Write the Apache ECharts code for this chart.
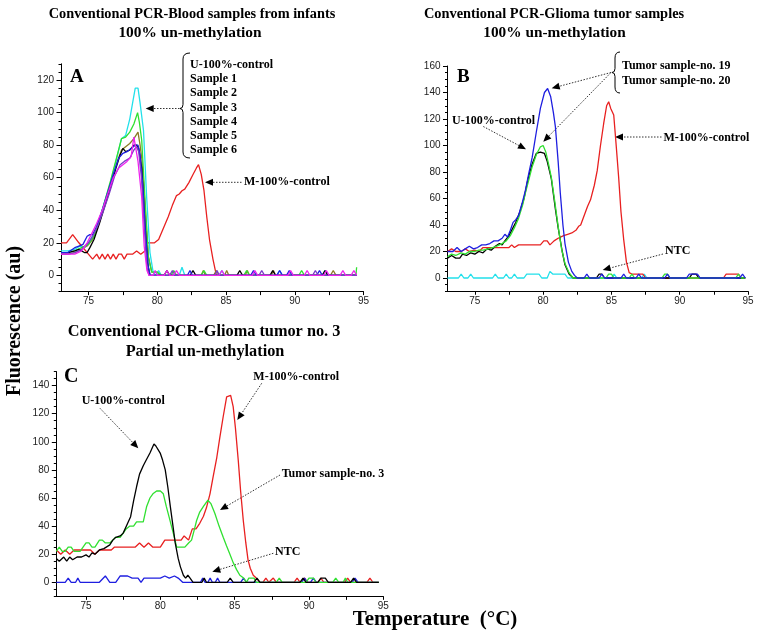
<!DOCTYPE html>
<html>
<head>
<meta charset="utf-8">
<script src="https://cdn.jsdelivr.net/npm/echarts@6/dist/echarts.min.js"></script>
<style>
html,body{margin:0;padding:0;background:#fff;}
#chart{width:757px;height:635px;}
</style>
</head>
<body>
<div id="chart"></div>
<script>
// ---------- tick values ----------
const tempTicks = [75, 77.5, 80, 82.5, 85, 87.5, 90, 92.5, 95];
const tempLabels = [75, 80, 85, 90, 95];
const fluoLabelsA = [0, 20, 40, 60, 80, 100, 120];
const fluoLabelsB = [0, 20, 40, 60, 80, 100, 120, 140, 160];
const fluoLabelsC = [0, 20, 40, 60, 80, 100, 120, 140];

// ---------- Panel A: blood samples from infants ----------
const aRed = [[73,20],[73.4,20],[73.85,25],[74.3,20],[74.7,16],[75.1,12],[75.3,10],[75.6,13],[75.8,10],[76,13],[76.2,10],[76.4,13],[76.6,10],[76.8,13],[77,10],[77.2,13],[77.4,13],[77.6,10],[77.8,13],[78.2,13],[78.5,15],[78.8,13],[79.1,15],[79.3,20],[79.8,20],[80.1,22],[80.5,30],[80.8,36],[81.1,43],[81.4,49],[81.6,50],[81.8,52],[82,53],[82.3,57],[82.6,62],[82.85,66],[83,68],[83.2,62],[83.4,52],[83.6,36],[83.8,22],[84.05,10],[84.3,0],[94.5,0]];
const aOlive = [[73,13],[73.5,13],[74,14],[74.5,16],[74.9,18],[75.3,22],[75.8,33],[76.2,44],[76.6,56],[77,68],[77.4,77],[77.7,79],[78,81],[78.3,84],[78.6,88],[78.75,80],[78.9,70],[79.1,45],[79.35,12],[79.6,2],[80,2],[80.2,0],[83.2,0],[83.35,3],[83.5,0],[84.1,0],[84.3,3],[84.5,0],[84.9,0],[85.05,3],[85.2,0],[86.4,0],[86.55,3],[86.7,0],[88.3,0],[88.45,3],[88.6,0],[92.6,0],[92.8,3],[93,0],[94.5,0]];
const aCyan = [[73,15],[73.5,15],[74,16],[74.4,18],[74.7,17],[75,20],[75.4,26],[75.8,35],[76.2,46],[76.6,57],[77,70],[77.4,84],[77.7,86],[78,96],[78.25,108],[78.4,115],[78.6,115],[78.75,106],[79,89],[79.23,48],[79.47,14],[79.7,2],[79.9,0],[80.1,3],[80.3,0],[81.6,0],[81.8,5],[82,0],[84.5,0],[84.7,3],[84.9,0],[88.7,0],[88.9,3],[89.1,0],[92,0],[92.2,3],[92.4,0],[94.5,0]];
const aGreen = [[73,14],[73.5,14],[74,15],[74.5,17],[75,19],[75.4,24],[75.8,34],[76.2,46],[76.6,58],[77,71],[77.4,84],[77.7,85],[78,88],[78.3,93],[78.57,100],[78.7,94],[78.87,83],[79.1,48],[79.35,11],[79.6,2],[80,2],[80.3,0],[81,0],[81.2,3],[81.4,0],[83.2,0],[83.4,3],[83.6,0],[86.3,0],[86.5,3],[86.7,0],[90.3,0],[90.5,3],[90.7,0],[94.45,0],[94.5,5]];
const aBlack = [[73,14],[73.5,14],[74,15],[74.3,16],[74.5,15],[74.7,14],[74.9,14],[75.1,17],[75.4,22],[75.8,32],[76.2,43],[76.6,54],[77,66],[77.3,74],[77.5,78],[77.7,76],[78,77],[78.3,80],[78.5,80],[78.65,78],[78.87,66],[79.1,32],[79.3,8],[79.45,0],[80.5,0],[80.7,3],[80.9,0],[82.4,0],[82.6,3],[82.8,0],[85.8,0],[86,3],[86.2,0],[88.2,0],[88.4,3],[88.6,0],[92,0],[92.2,3],[92.4,0],[94.5,0]];
const aBlue = [[73,14],[73.5,14],[74,17],[74.3,18],[74.6,19],[74.9,24],[75.1,25],[75.3,25],[75.6,30],[76,40],[76.4,51],[76.8,62],[77.2,72],[77.5,75],[77.8,76],[78.1,78],[78.4,80],[78.6,80],[78.75,74],[78.95,55],[79.15,25],[79.35,5],[79.5,0],[82.2,0],[82.38,3],[82.55,0],[86.8,0],[87,3],[87.2,0],[88.7,0],[88.9,3],[89.1,0],[89.4,0],[89.6,3],[89.8,0],[91.6,0],[91.8,3],[92,0],[94.5,0]];
const aPurple = [[73,13],[73.5,13],[74,14],[74.5,16],[75,20],[75.3,24],[75.7,31],[76.1,40],[76.5,50],[76.9,61],[77.3,68],[77.6,70],[78,72],[78.3,77],[78.5,79],[78.65,76],[78.85,60],[79.05,30],[79.25,5],[79.4,0],[80.9,0],[81.1,3],[81.3,0],[84.2,0],[84.35,3],[84.5,0],[87.4,0],[87.6,3],[87.8,0],[91.3,0],[91.5,3],[91.7,0],[94.5,0]];
const aMagenta = [[73,13],[73.5,13],[74,13],[74.5,15],[74.9,20],[75.2,25],[75.6,32],[76,40],[76.4,50],[76.8,60],[77.2,66],[77.5,68],[77.8,70],[78.1,73],[78.3,85],[78.4,80],[78.6,70],[78.87,48],[79.05,18],[79.25,3],[79.4,0],[79.7,0],[79.85,3],[80,0],[80.5,0],[80.7,3],[80.9,0],[81.2,0],[81.4,3],[81.6,0],[84.5,0],[84.7,3],[84.9,0],[86.9,0],[87.1,3],[87.3,0],[89.5,0],[89.7,3],[89.9,0],[90.7,0],[90.9,3],[91.1,0],[92.1,0],[92.3,3],[92.5,0],[93.3,0],[93.5,3],[93.7,0],[94.1,0],[94.3,3],[94.5,0]];

// ---------- Panel B: glioma tumor samples ----------
const bCyan = [[73,0],[73.8,0],[74,3],[74.2,0],[74.5,0],[74.7,3],[74.9,0],[76.3,0],[76.5,3],[76.7,0],[77.1,0],[77.3,3],[77.5,0],[77.7,0],[77.9,3],[78.1,0],[78.6,0],[78.8,3],[79.7,3],[79.9,0],[80.3,0],[80.5,5],[80.7,3],[81.6,3],[81.8,0],[85,0],[85.2,3],[85.4,0],[87.2,0],[87.4,3],[87.6,0],[94.8,0]];
const bRed = [[73,20],[73.3,22],[73.6,20],[74,20],[74.3,22],[74.6,20],[75,21],[75.3,20],[75.6,23],[76,23],[76.5,23],[77,23],[77.5,23],[77.7,25],[77.9,23],[78.2,25],[78.6,25],[79,25],[79.4,25],[79.8,25],[80.05,28],[80.3,28],[80.5,25],[80.8,28],[81.1,30],[81.5,32],[81.8,33],[82.1,34],[82.4,36],[82.6,39],[82.75,40],[83,47],[83.25,54],[83.47,59],[83.75,70],[83.96,81],[84.2,100],[84.44,117],[84.65,130],[84.8,133],[84.95,128],[85.17,123],[85.35,100],[85.53,76],[85.7,50],[85.9,29],[86.1,12],[86.3,4],[86.5,3],[87.3,3],[87.5,0],[93.2,0],[93.4,3],[94.3,3],[94.5,0],[94.8,0]];
const bBlack = [[73,15],[73.3,17],[73.6,15],[73.9,15],[74.1,18],[74.4,17],[74.7,19],[75,18],[75.3,20],[75.6,19],[75.9,22],[76.2,21],[76.5,24],[76.8,26],[77,25],[77.2,28],[77.5,32],[77.8,38],[78,42],[78.3,50],[78.6,60],[78.9,75],[79.2,86],[79.5,94],[79.8,95],[80.1,94],[80.3,88],[80.6,75],[80.9,52],[81.1,38],[81.4,20],[81.6,10],[81.9,3],[82.2,0],[83.9,0],[84.1,3],[84.3,3],[84.5,0],[90.7,0],[90.9,3],[91.2,3],[91.4,0],[94.8,0]];
const bGreen = [[73,16],[73.3,18],[73.6,17],[74,19],[74.3,18],[74.6,20],[75,20],[75.3,21],[75.6,21],[76,22],[76.3,23],[76.6,24],[77,26],[77.3,28],[77.6,32],[77.9,38],[78.2,45],[78.5,55],[78.7,64],[79,76],[79.2,84],[79.5,93],[79.8,99],[80,100],[80.2,95],[80.4,86],[80.6,76],[80.85,58],[81.1,39],[81.35,22],[81.6,11],[81.9,4],[82.2,0],[84.6,0],[84.8,3],[85,3],[85.2,0],[86.3,0],[86.5,3],[86.7,0],[88.7,0],[88.9,3],[89.1,3],[89.3,0],[94.1,0],[94.3,3],[94.5,0],[94.8,0]];
const bBlue = [[73,20],[73.4,20],[73.7,23],[74,20],[74.3,22],[74.6,24],[74.9,22],[75.2,23],[75.5,25],[75.8,25],[76.1,26],[76.4,28],[76.7,28],[77,30],[77.2,33],[77.4,31],[77.6,36],[77.8,42],[78,44],[78.2,47],[78.45,56],[78.7,66],[78.95,79],[79.2,91],[79.5,110],[79.8,128],[80.1,140],[80.33,143],[80.55,137],[80.75,125],[80.9,114],[81.1,88],[81.26,64],[81.45,40],[81.6,26],[81.85,12],[82.1,5],[82.3,2],[82.5,0],[83,0],[83.2,3],[83.4,0],[84.1,0],[84.3,3],[84.5,0],[85.7,0],[85.9,3],[86.1,0],[86.8,0],[87,3],[87.2,0],[88.9,0],[89.1,3],[89.3,0],[90.5,0],[90.7,3],[91.3,3],[91.5,0],[94.4,0],[94.6,3],[94.8,0]];

// ---------- Panel C: glioma tumor no. 3 ----------
const cRed = [[73,23],[73.3,20],[73.6,23],[73.9,20],[74.2,23],[74.6,23],[75,23],[75.3,23],[75.6,20],[75.9,23],[76.3,23],[76.7,23],[76.9,25],[77.5,25],[78.3,25],[78.6,28],[78.9,25],[79.2,28],[79.5,25],[80,25],[80.3,30],[81.4,30],[81.6,33],[81.9,30],[82.15,38],[82.4,38],[82.65,42],[82.9,47],[83.1,53],[83.34,63],[83.55,75],[83.8,89],[84,103],[84.23,118],[84.46,132],[84.73,133],[84.9,125],[85.05,110],[85.24,87],[85.4,65],[85.58,44],[85.75,28],[85.9,16],[86.05,10],[86.25,5],[86.45,3],[86.7,0],[86.9,0],[87.1,3],[87.3,0],[87.4,0],[87.6,3],[87.8,0],[89,0],[89.2,3],[89.4,0],[89.5,0],[89.7,3],[89.9,0],[90.6,0],[90.8,3],[91,0],[92.4,0],[92.6,3],[92.8,0],[93.9,0],[94.1,3],[94.3,0],[94.7,0]];
const cBlue = [[73,0],[73.6,0],[73.8,3],[74,0],[74.3,0],[74.45,3],[74.6,0],[75.9,0],[76.3,4.5],[76.6,0],[77,0],[77.3,4.5],[77.8,4.5],[78.1,3],[78.5,3],[78.7,0],[78.9,3],[80,3],[80.3,4.5],[80.6,3],[80.95,4.5],[81.2,3],[81.5,0],[82.7,0],[82.85,3],[83,0],[83.2,0],[83.35,3],[83.5,0],[83.7,0],[83.85,3],[84,0],[85.4,0],[85.6,3],[85.8,0],[89.5,0],[89.7,3],[89.9,0],[90.1,0],[90.3,3],[90.5,0],[92.9,0],[93.1,3],[93.3,0],[94.7,0]];
const cGreen = [[73,22],[73.2,25],[73.4,22],[73.6,22],[73.8,25],[74,25],[74.2,22],[74.4,22],[74.6,22],[74.8,25],[75,28],[75.2,28],[75.4,25],[75.6,25],[75.9,30],[76.1,30],[76.3,28],[76.6,28],[76.8,30],[77,32],[77.3,32],[77.5,35],[77.7,38],[77.95,40],[78.2,40],[78.4,43],[78.85,43],[79.08,54],[79.3,60],[79.5,63],[79.75,65],[80,65],[80.2,63],[80.4,54],[80.6,46],[80.87,35],[81.1,25],[81.65,25],[81.9,28],[82.1,30],[82.3,38],[82.44,44],[82.65,50],[82.9,54],[83.2,58.5],[83.4,56],[83.67,49],[83.95,40],[84.23,32],[84.45,26],[84.68,20],[84.9,14],[85.13,9],[85.35,5],[85.6,3],[85.8,0],[85.95,3],[86.3,3],[86.45,0],[87.8,0],[88,3],[88.2,0],[89.8,0],[90,3],[90.3,3],[90.45,0],[91.6,0],[91.8,3],[92,0],[92.3,0],[92.45,3],[92.6,0],[94.7,0]];
const cBlack = [[73,17],[73.2,15],[73.5,18],[73.7,15],[73.9,18],[74.1,16],[74.4,18],[74.7,18],[75,19.5],[75.2,18],[75.4,21],[75.6,20],[75.9,23],[76.2,24],[76.6,26.6],[76.8,30],[77,32],[77.3,33],[77.5,35],[77.8,42],[78,46.7],[78.2,58],[78.4,68],[78.6,77],[78.85,83],[79.05,87],[79.3,92],[79.57,98.5],[79.7,97],[79.99,92],[80.15,87],[80.33,80],[80.5,68],[80.67,54],[80.85,40],[81,28],[81.2,17],[81.35,11],[81.55,5],[81.7,3],[81.85,5],[82,3],[82.2,0],[82.8,0],[82.95,3],[83.1,0],[84.5,0],[84.7,3],[84.9,0],[86.3,0],[86.5,3],[86.7,0],[89.4,0],[89.6,3],[89.8,0],[90.6,0],[90.8,3],[91.1,3],[91.3,0],[92.8,0],[93,3],[93.2,0],[94.7,0]];

// ---------- chart ----------
const SERIF = '"Liberation Serif","Times New Roman",serif';
const SANS = '"Liberation Sans",Arial,sans-serif';

const grids = [
  {left: 61, top: 63.8, width: 302.5, height: 227.8},
  {left: 447.5, top: 66, width: 300.5, height: 225.25},
  {left: 56.3, top: 371.55, width: 327, height: 224.8}
].map(g => Object.assign({containLabel: false, outerBoundsMode: 'none', show: false}, g));

const yRanges = [[-10, 130, fluoLabelsA], [-10, 160, fluoLabelsB], [-10, 150, fluoLabelsC]];

const xAxes = [0, 1, 2].map(i => ({
  type: 'value', gridIndex: i, min: 73, max: 95, interval: 1, position: 'bottom',
  axisLine: {show: true, onZero: false, lineStyle: {color: '#000', width: 1}},
  axisTick: {show: true, customValues: tempTicks, length: 3.5, lineStyle: {color: '#000'}},
  axisLabel: {customValues: tempLabels, fontSize: 10, fontFamily: SANS, color: '#222', margin: 5,
              formatter: v => (v % 5 === 0 ? String(v) : '')},
  splitLine: {show: false}
}));

const yAxes = [];
yRanges.forEach((r, i) => {
  yAxes.push({
    type: 'value', gridIndex: i, min: r[0], max: r[1], interval: 5, position: 'left',
    axisLine: {show: true, onZero: false, lineStyle: {color: '#000', width: 1}},
    axisTick: {show: true, customValues: r[2], length: 4.5, lineStyle: {color: '#000'}},
    axisLabel: {customValues: r[2], fontSize: 10, fontFamily: SANS, color: '#222', margin: 7,
                formatter: v => (v >= 0 && v % 20 === 0 ? String(v) : '')},
    splitLine: {show: false}
  });
});
// minor ticks every 5 units, drawn on the same left edge
yRanges.forEach((r, i) => {
  yAxes.push({
    type: 'value', gridIndex: i, min: r[0], max: r[1], interval: 5, position: 'left', offset: 0,
    axisLine: {show: false, onZero: false},
    axisTick: {show: true, length: 2.5, lineStyle: {color: '#000'}},
    axisLabel: {show: false},
    splitLine: {show: false}
  });
});

function line(data, color, panel) {
  return {
    type: 'line', data: data, xAxisIndex: panel, yAxisIndex: panel,
    showSymbol: false, symbol: 'none', smooth: false, silent: true,
    lineStyle: {color: color, width: 1.3}, animation: false
  };
}

const series = [
  line(aRed, '#e82020', 0),
  line(aOlive, '#8c7a24', 0),
  line(aCyan, '#22e0ea', 0),
  line(aGreen, '#30e030', 0),
  line(aBlack, '#000000', 0),
  line(aBlue, '#1e1ee0', 0),
  line(aPurple, '#7a3cc8', 0),
  line(aMagenta, '#ee22ee', 0),
  line(bCyan, '#22e0ea', 1),
  line(bRed, '#e82020', 1),
  line(bBlack, '#000000', 1),
  line(bGreen, '#30e030', 1),
  line(bBlue, '#1e1ee0', 1),
  line(cRed, '#e82020', 2),
  line(cBlue, '#1e1ee0', 2),
  line(cGreen, '#30e030', 2),
  line(cBlack, '#000000', 2)
];

// ---------- annotations (text, braces, arrows) ----------
function txt(s, x, y, size, align, extra) {
  return Object.assign({
    type: 'text', x: x, y: y, silent: true,
    style: {text: s, x: 0, y: 0, font: 'bold ' + size + 'px ' + SERIF, fill: '#000',
            align: align || 'left', verticalAlign: 'middle'}
  }, extra || {});
}
function arrow(x1, y1, x2, y2) {
  const dx = x2 - x1, dy = y2 - y1, L = Math.hypot(dx, dy), ux = dx / L, uy = dy / L;
  const hl = 8, hw = 3.5, bx = x2 - ux * hl, by = y2 - uy * hl;
  return [
    {type: 'line', silent: true, shape: {x1: x1, y1: y1, x2: bx, y2: by},
     style: {stroke: '#333', lineWidth: 1, lineDash: [1.5, 1.5]}},
    {type: 'polygon', silent: true,
     shape: {points: [[x2, y2], [bx - uy * hw, by + ux * hw], [bx + uy * hw, by - ux * hw]]},
     style: {fill: '#000'}}
  ];
}
// curly-bracket built from curves and straight segments
function brace(xr, xl, yTop, yMid, yBot) {
  const st = {stroke: '#000', lineWidth: 1, fill: null};
  const c = 6;
  return [
    {type: 'bezierCurve', silent: true, shape: {x1: xr, y1: yTop, cpx1: xl, cpy1: yTop, x2: xl, y2: yTop + c}, style: st},
    {type: 'line', silent: true, shape: {x1: xl, y1: yTop + c, x2: xl, y2: yMid - 4}, style: st},
    {type: 'bezierCurve', silent: true, shape: {x1: xl, y1: yMid - 4, cpx1: xl, cpy1: yMid, x2: xl - 3, y2: yMid}, style: st},
    {type: 'bezierCurve', silent: true, shape: {x1: xl - 3, y1: yMid, cpx1: xl, cpy1: yMid, x2: xl, y2: yMid + 4}, style: st},
    {type: 'line', silent: true, shape: {x1: xl, y1: yMid + 4, x2: xl, y2: yBot - c}, style: st},
    {type: 'bezierCurve', silent: true, shape: {x1: xl, y1: yBot - c, cpx1: xl, cpy1: yBot, x2: xr, y2: yBot}, style: st}
  ];
}

const samplesA = ['U-100%-control', 'Sample 1', 'Sample 2', 'Sample 3', 'Sample 4', 'Sample 5', 'Sample 6'];

const graphics = [
  // titles
  txt('Conventional PCR-Blood samples from infants', 192, 14, 14.3, 'center'),
  txt('100% un-methylation', 190, 33, 15.4, 'center'),
  txt('Conventional PCR-Glioma tumor samples', 554, 14, 14.4, 'center'),
  txt('100% un-methylation', 554.5, 33, 15.3, 'center'),
  txt('Conventional PCR-Glioma tumor no. 3', 204, 332, 16.3, 'center'),
  txt('Partial un-methylation', 205, 352, 16.3, 'center'),
  // axis titles
  txt('Fluorescence (au)', 15, 321, 20, 'center', {rotation: Math.PI / 2}),
  txt('Temperature  (\u00B0C)', 435, 620, 21, 'center'),
  // panel letters
  txt('A', 70, 77, 19, 'left'),
  txt('B', 457, 77, 19, 'left'),
  txt('C', 64, 377, 20, 'left'),
  // panel A annotations
  txt('M-100%-control', 244, 182.3, 12, 'left'),
  // panel B annotations
  txt('Tumor sample-no. 19', 622, 65.7, 12, 'left'),
  txt('Tumor sample-no. 20', 622, 80.7, 12, 'left'),
  txt('U-100%-control', 452, 121, 12, 'left'),
  txt('M-100%-control', 663.5, 137.7, 12, 'left'),
  txt('NTC', 665, 250.7, 12, 'left'),
  // panel C annotations
  txt('M-100%-control', 253.3, 376.7, 12, 'left'),
  txt('U-100%-control', 81.7, 401, 12, 'left'),
  txt('Tumor sample-no. 3', 281.7, 474.3, 12, 'left'),
  txt('NTC', 275, 552.3, 12, 'left')
];
graphics.push(...brace(190, 183, 53, 108.5, 158));
graphics.push(...brace(620, 615, 52, 72.5, 93));
samplesA.forEach((s, i) => graphics.push(txt(s, 190, 65 + i * 14.2, 12, 'left')));
[
  [179.5, 108.5, 145.7, 108.5],
  [241.5, 182.3, 205, 182.3],
  [611, 72.5, 551.7, 88.3],
  [611, 72.5, 543.3, 141.7],
  [483.3, 126.5, 526, 149.3],
  [661.5, 137, 615, 137],
  [663, 254, 602.7, 270],
  [261.7, 383.3, 237.3, 420],
  [100, 408.3, 138.3, 448.3],
  [280, 475, 220, 510],
  [273.3, 553.3, 212.3, 571.7]
].forEach(a => graphics.push(...arrow(a[0], a[1], a[2], a[3])));

const chart = echarts.init(document.getElementById('chart'), null, {renderer: 'canvas'});
chart.setOption({
  animation: false,
  backgroundColor: '#ffffff',
  grid: grids,
  xAxis: xAxes,
  yAxis: yAxes,
  series: series,
  graphic: {elements: graphics}
});
</script>
</body>
</html>
